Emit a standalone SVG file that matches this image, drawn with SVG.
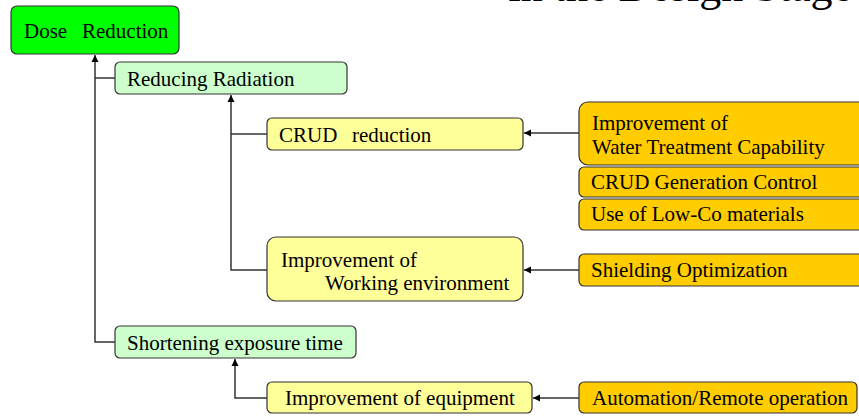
<svg xmlns="http://www.w3.org/2000/svg" width="859" height="416" viewBox="0 0 859 416">
<defs>
<style>
.box{stroke:#333;stroke-width:1.2}
.root{fill:#00ff00}
.mid{fill:#ccffcc}
.sub{fill:#ffff99}
.src{fill:#ffcc00}
text{font-family:"Liberation Serif","Times New Roman",serif;font-size:21px;fill:#000}
.title{font-size:44px}
.conn path{fill:none;stroke:#333;stroke-width:1.5}
</style>
<marker id="ah" markerUnits="userSpaceOnUse" markerWidth="8" markerHeight="8" refX="7" refY="4" orient="auto">
<path d="M0,0.5 L7,4 L0,7.5 z" fill="#000"/>
</marker>
</defs>
<rect width="859" height="416" fill="#fff"/>
<text class="title" x="852" y="1" text-anchor="end">in the Design Stage</text>

<g class="conn">
<path d="M115,342 H95 V55" marker-end="url(#ah)"/>
<path d="M115,78 H95"/>
<path d="M267,270 H231 V95" marker-end="url(#ah)"/>
<path d="M267,134 H231"/>
<path d="M579,133 H524" marker-end="url(#ah)"/>
<path d="M579,270 H524" marker-end="url(#ah)"/>
<path d="M267,398 H235 V359" marker-end="url(#ah)"/>
<path d="M579,398 H533" marker-end="url(#ah)"/>
</g>

<g id="dose-reduction">
<rect class="box root" x="11" y="6" width="168" height="48" rx="6"/>
<text x="24" y="38">Dose<tspan x="82">Reduction</tspan></text>
</g>
<g id="reducing-radiation">
<rect class="box mid" x="115" y="62" width="232" height="32" rx="5"/>
<text x="127" y="86">Reducing Radiation</text>
</g>
<g id="crud-reduction">
<rect class="box sub" x="267" y="118" width="256" height="32" rx="5"/>
<text x="279" y="142">CRUD<tspan x="352">reduction</tspan></text>
</g>
<g id="working-environment">
<rect class="box sub" x="267" y="237" width="256" height="64" rx="9"/>
<text x="281" y="267">Improvement of</text>
<text x="325" y="290">Working environment</text>
</g>
<g id="water-treatment">
<rect class="box src" x="579" y="102" width="290" height="63" rx="9"/>
<text x="592" y="130">Improvement of</text>
<text x="592" y="154">Water Treatment Capability</text>
</g>
<g id="crud-generation">
<rect class="box src" x="579" y="167" width="290" height="30" rx="5"/>
<text x="591" y="189">CRUD Generation Control</text>
</g>
<g id="low-co">
<rect class="box src" x="579" y="199" width="290" height="31" rx="5"/>
<text x="591" y="221">Use of Low-Co materials</text>
</g>
<g id="shielding">
<rect class="box src" x="579" y="254" width="290" height="32" rx="5"/>
<text x="591" y="277">Shielding Optimization</text>
</g>
<g id="shortening">
<rect class="box mid" x="115" y="326" width="241" height="32" rx="5"/>
<text x="127" y="350">Shortening exposure time</text>
</g>
<g id="equipment">
<rect class="box sub" x="267" y="382" width="265" height="31" rx="5"/>
<text x="285" y="405">Improvement of equipment</text>
</g>
<g id="automation">
<rect class="box src" x="579" y="382" width="278" height="31" rx="5"/>
<text x="592" y="405">Automation/Remote operation</text>
</g>
</svg>
